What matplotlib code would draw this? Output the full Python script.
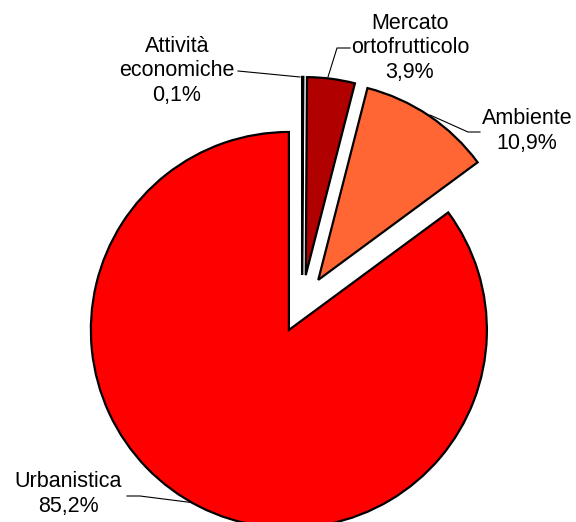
import matplotlib.pyplot as plt

plt.rcParams["font.family"] = ["Liberation Sans", "DejaVu Sans"]

labels = ["Attività\neconomiche", "Mercato\nortofrutticolo", "Ambiente", "Urbanistica"]
values = [0.1, 3.9, 10.9, 85.2]
colors = ["#A80000", "#B00000", "#FF6633", "#FF0000"]

# pie centre and radius in image pixels (y from top)
CX, CY, R = 302, 304, 198


def px(x, y):
    return ((x - CX) / R, (CY - y) / R)


fig = plt.figure(figsize=(5.76, 5.22), dpi=100)
ax = fig.add_axes([0, 0, 1, 1])

ax.pie(
    values,
    colors=colors,
    startangle=90,
    counterclock=False,
    explode=[0.147] * len(values),
    radius=1,
    wedgeprops=dict(edgecolor="black", linewidth=1.6, zorder=2),
)

ax.set_xlim(px(0, 0)[0], px(576, 0)[0])
ax.set_ylim(px(0, 522)[1], px(0, 0)[1])
ax.set_aspect("auto")
ax.axis("off")

# label text: position (px), leader line points (px)
label_layout = [
    ((177, 71), [(238, 71), (300, 77)]),
    ((410, 48), [(350, 48), (337, 48), (328, 77)]),
    ((527, 131), [(480, 132), (468, 132), (430, 115)]),
    ((68, 494), [(127, 496), (140, 496), (203, 504)]),
]

for name, val, (pos, line) in zip(labels, values, label_layout):
    text = f"{name}\n{val:.1f}%".replace(".", ",")
    ax.text(
        *px(*pos),
        text,
        ha="center",
        va="center",
        fontsize=15.5,
        linespacing=1.2,
    )
    xs, ys = zip(*[px(*p) for p in line])
    ax.plot(xs, ys, color="black", linewidth=0.8, zorder=1)

fig.savefig("out.png", dpi=100)
